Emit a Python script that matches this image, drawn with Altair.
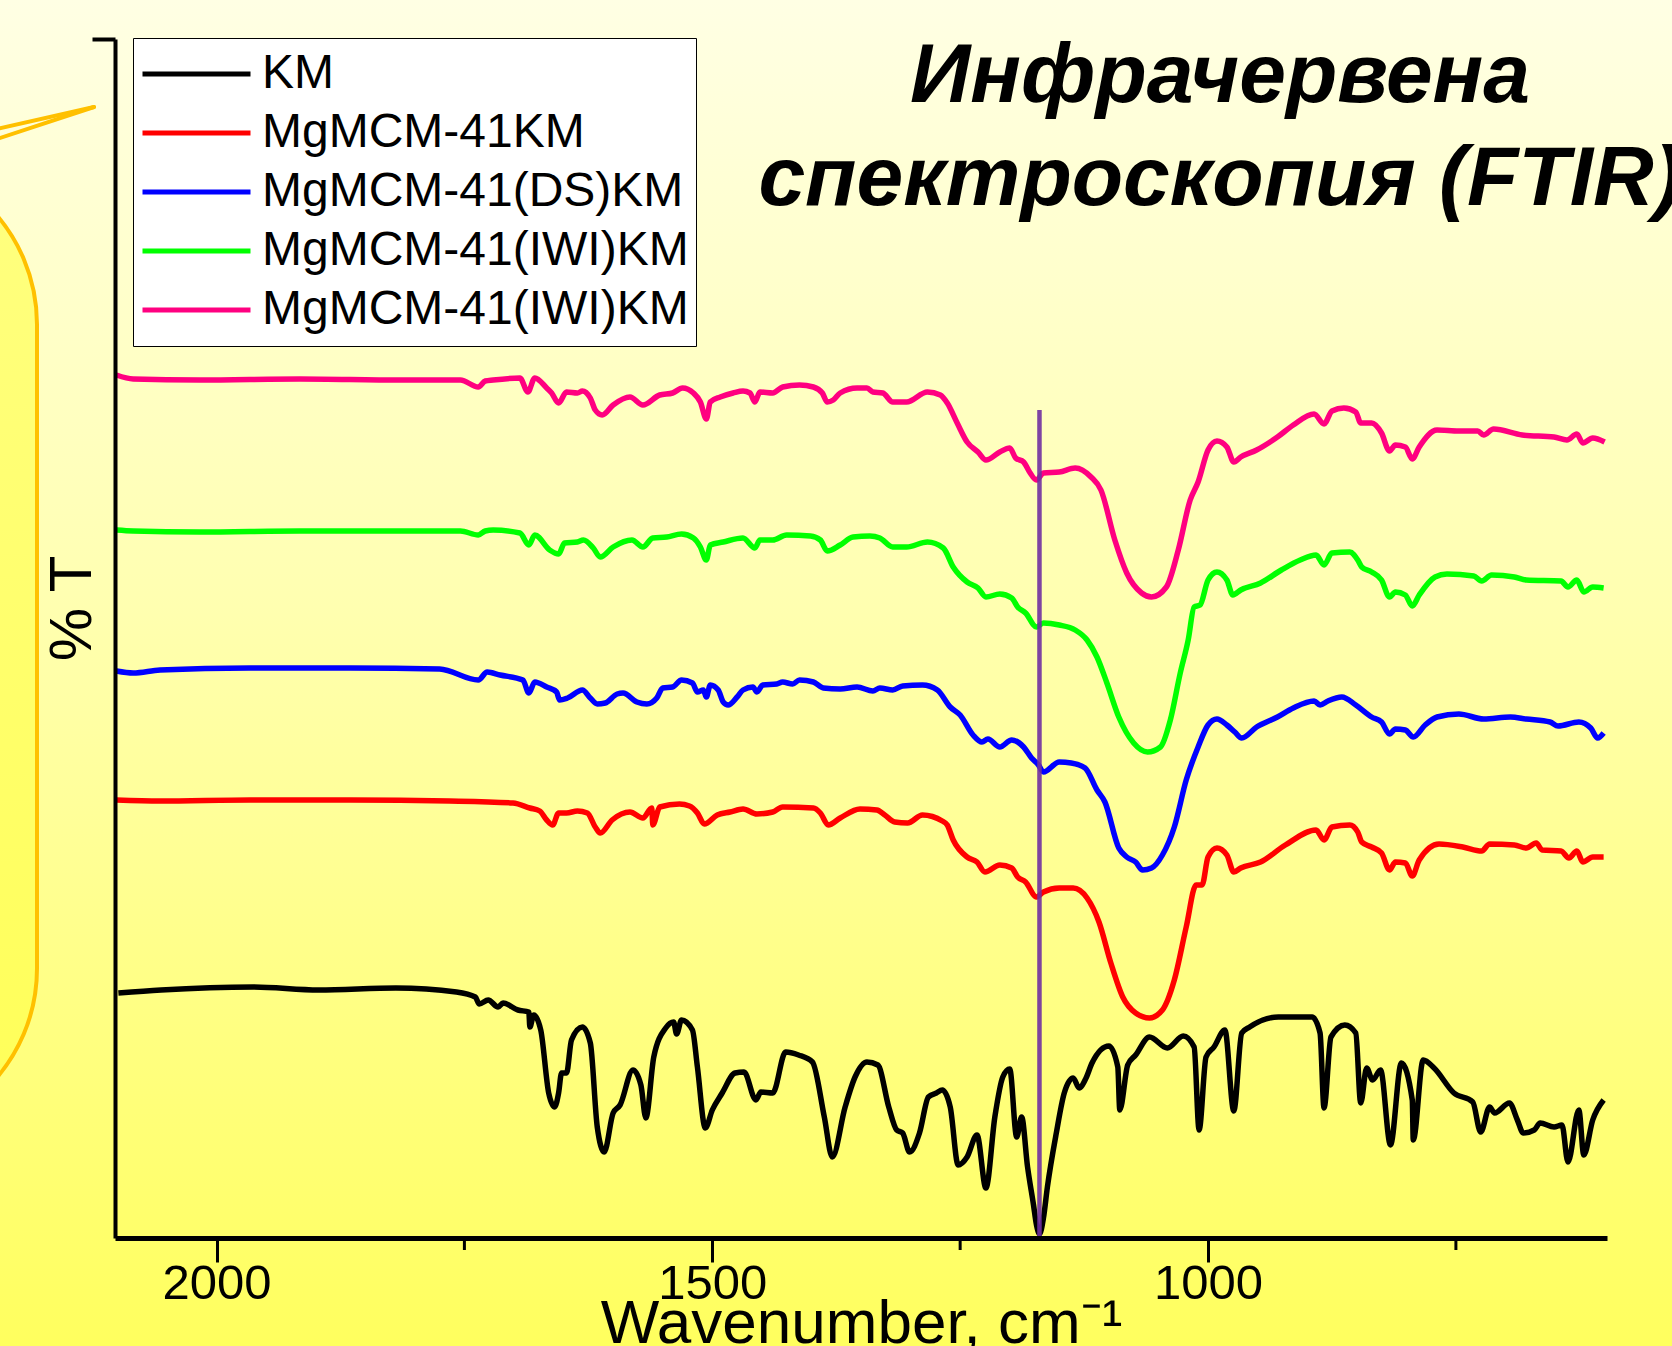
import altair as alt
import pandas as pd

# ---------------- data ----------------
SERIES_KEYS = ["KM", "MgMCM-41KM", "MgMCM-41(DS)KM", "MgMCM-41(IWI)KM", "MgMCM-41(IWI)KM [2]"]
SERIES_COLORS = ["#000000", "#FF0000", "#0000FF", "#00FF00", "#FF0080"]

km_wn = [2099, 2056, 1963, 1897, 1819, 1758, 1739, 1735, 1726, 1716, 1711, 1696, 1685, 1684, 1680,
         1673, 1665, 1659, 1655, 1652, 1647, 1642, 1631, 1623, 1616, 1609, 1600, 1593, 1580, 1572,
         1567, 1559, 1547, 1539, 1536, 1531, 1520, 1515, 1507, 1500, 1490, 1477, 1468, 1456, 1451,
         1439, 1426, 1413, 1399, 1387, 1379, 1366, 1356, 1344, 1333, 1322, 1314, 1308, 1301, 1291,
         1282, 1274, 1268, 1260, 1252, 1243, 1233, 1224, 1215, 1207, 1200, 1193, 1188, 1182, 1176,
         1173, 1170, 1166, 1162, 1153, 1145, 1136, 1130, 1123, 1117, 1100, 1091, 1089, 1081, 1073,
         1059, 1041, 1025, 1014, 1009, 1002, 994, 983, 974, 966, 958, 929, 895, 887, 883,
         876, 862, 851, 846, 840, 834, 826, 816, 805, 794, 793, 783, 772, 752, 733,
         725, 716, 711, 696, 688, 682, 671, 665, 651, 643, 637, 626, 621, 612, 601]
km_t = [24.5, 24.8, 25.1, 24.8, 25.0, 24.6, 24.1, 23.4, 23.8, 23.1, 23.5, 22.8, 22.6, 21.1, 22.3,
        20.8, 14.5, 13.1, 14.5, 16.5, 16.5, 19.8, 21.1, 19.5, 11.1, 8.6, 12.5, 13.3, 16.8, 15.3,
        12.0, 18.1, 21.0, 21.6, 20.4, 21.8, 20.8, 17.1, 11.0, 12.8, 14.5, 16.5, 16.6, 13.8, 14.6,
        14.5, 18.6, 18.3, 17.6, 12.1, 8.1, 13.1, 16.1, 17.6, 17.3, 13.1, 10.8, 10.5, 8.6, 10.5,
        14.1, 14.5, 14.8, 13.1, 7.3, 8.1, 10.3, 5.0, 12.1, 16.1, 16.9, 10.1, 12.1, 7.1, 3.3,
        1.3, 0.4, 2.0, 5.1, 10.5, 14.5, 16.0, 15.0, 16.0, 17.5, 19.2, 17.1, 12.8, 17.3, 18.3,
        20.1, 19.0, 20.2, 19.1, 10.8, 18.1, 19.1, 20.8, 12.7, 20.5, 21.1, 22.1, 22.1, 20.5, 13.0,
        20.1, 21.3, 20.5, 13.5, 17.0, 15.8, 16.8, 9.3, 17.5, 13.8, 9.8, 17.8, 17.0, 14.5, 13.6,
        10.6, 13.1, 12.5, 13.5, 11.8, 10.5, 10.8, 11.5, 11.1, 11.3, 7.6, 12.8, 8.3, 11.8, 13.8]

red_wn = [2101, 2057, 1966, 1865, 1765, 1701, 1684, 1674, 1667, 1661, 1655, 1647, 1636, 1626, 1618,
          1613, 1601, 1583, 1570, 1561, 1560, 1553, 1533, 1523, 1515, 1508, 1495, 1482, 1469, 1455,
          1439, 1429, 1398, 1391, 1383, 1371, 1351, 1334, 1326, 1316, 1303, 1288, 1268, 1263, 1257,
          1243, 1233, 1225, 1210, 1198, 1192, 1184, 1173, 1166, 1150, 1136, 1122, 1110, 1098, 1086,
          1073, 1059, 1046, 1034, 1022, 1012, 1006, 1000, 991, 981, 974, 967, 947, 922, 891,
          883, 875, 857, 849, 845, 835, 825, 817, 811, 801, 794, 787, 767, 743, 724,
          716, 691, 679, 669, 663, 644, 636, 628, 622, 612, 601]
red_t = [43.8, 43.7, 43.8, 43.8, 43.7, 43.5, 43.0, 42.7, 41.8, 41.3, 42.5, 42.5, 42.7, 42.5, 41.1,
         40.5, 41.8, 42.6, 42.0, 43.0, 41.3, 43.1, 43.4, 43.2, 42.5, 41.4, 42.3, 42.6, 42.9, 42.4,
         42.6, 43.1, 43.0, 42.5, 41.3, 42.0, 42.9, 42.8, 42.3, 41.6, 41.5, 42.3, 41.7, 41.3, 39.8,
         38.1, 37.6, 36.6, 37.3, 37.0, 36.1, 35.6, 34.1, 34.6, 35.0, 35.0, 34.0, 31.6, 27.5, 24.1,
         22.5, 22.0, 22.8, 25.8, 31.1, 35.3, 35.3, 38.1, 39.0, 38.3, 36.6, 37.0, 37.6, 39.3, 40.8,
         39.8, 41.1, 41.3, 40.6, 39.6, 39.1, 38.5, 36.8, 37.6, 37.5, 36.2, 37.8, 39.4, 39.1, 38.7,
         39.4, 39.3, 39.0, 39.5, 38.8, 38.7, 38.0, 38.7, 37.6, 38.1, 38.1]

blue_wn = [2101, 2084, 2057, 1966, 1865, 1775, 1736, 1727, 1714, 1691, 1685, 1679, 1667, 1657, 1654,
           1646, 1631, 1623, 1616, 1608, 1596, 1590, 1576, 1566, 1556, 1550, 1540, 1531, 1520, 1515,
           1509, 1506, 1502, 1494, 1489, 1484, 1475, 1469, 1459, 1455, 1449, 1435, 1429, 1419, 1412,
           1398, 1388, 1371, 1354, 1338, 1331, 1318, 1308, 1288, 1273, 1260, 1250, 1237, 1228, 1222,
           1210, 1198, 1186, 1178, 1171, 1166, 1150, 1138, 1124, 1112, 1104, 1090, 1082, 1073, 1066,
           1057, 1046, 1034, 1022, 1010, 1000, 991, 981, 973, 966, 951, 930, 914, 893, 887,
           879, 865, 851, 835, 825, 817, 811, 801, 793, 781, 769, 747, 722, 695, 679,
           655, 647, 626, 614, 607, 601]
blue_t = [56.7, 56.5, 56.8, 57.0, 57.0, 56.9, 55.8, 56.6, 56.3, 55.8, 54.5, 55.6, 55.1, 54.6, 53.8,
          54.0, 54.8, 54.0, 53.4, 53.5, 54.4, 54.5, 53.6, 53.4, 54.0, 55.0, 55.1, 55.8, 55.5, 54.6,
          54.8, 54.1, 55.3, 54.8, 53.6, 53.3, 54.1, 54.8, 55.1, 54.6, 55.3, 55.4, 55.6, 55.4, 55.8,
          55.6, 55.0, 54.9, 55.1, 54.7, 55.0, 54.8, 55.2, 55.3, 54.8, 53.1, 52.3, 50.3, 49.6, 49.9,
          49.1, 49.8, 49.1, 48.0, 47.3, 46.6, 47.6, 47.5, 47.0, 44.8, 43.6, 39.0, 38.1, 37.6, 36.8,
          37.0, 38.3, 41.1, 45.8, 49.1, 51.3, 51.9, 51.3, 50.6, 50.0, 51.1, 52.1, 53.0, 53.7, 53.3,
          53.7, 54.1, 53.3, 52.1, 51.6, 50.4, 50.9, 50.8, 50.1, 51.3, 52.1, 52.4, 51.9, 52.1, 51.9,
          51.6, 51.2, 51.6, 51.0, 50.0, 50.5]

green_wn = [2101, 2084, 2017, 1916, 1815, 1754, 1736, 1729, 1721, 1694, 1685, 1679, 1664, 1655, 1649,
            1636, 1630, 1620, 1613, 1600, 1581, 1570, 1560, 1546, 1531, 1519, 1512, 1506, 1502, 1489,
            1469, 1457, 1452, 1439, 1425, 1401, 1391, 1384, 1371, 1358, 1341, 1331, 1318, 1304, 1283,
            1267, 1257, 1243, 1232, 1224, 1210, 1198, 1192, 1184, 1173, 1166, 1150, 1134, 1122, 1112,
            1102, 1090, 1075, 1061, 1048, 1038, 1028, 1020, 1014, 1008, 1000, 991, 981, 975, 967,
            947, 926, 907, 891, 883, 875, 857, 849, 845, 835, 825, 817, 811, 801, 794,
            787, 771, 759, 732, 724, 714, 691, 679, 644, 637, 628, 621, 612, 601]
green_t = [70.8, 70.7, 70.6, 70.7, 70.7, 70.7, 70.3, 70.7, 70.8, 70.5, 69.3, 70.3, 68.8, 68.4, 69.5,
           69.6, 69.8, 69.0, 68.1, 69.1, 69.8, 69.1, 70.0, 70.1, 70.4, 70.0, 69.1, 67.8, 69.3, 69.6,
           70.0, 69.0, 69.8, 69.8, 70.3, 70.2, 69.8, 68.7, 69.3, 70.1, 70.2, 70.0, 69.1, 69.1, 69.6,
           69.0, 67.1, 65.6, 65.0, 64.1, 64.4, 64.0, 63.1, 62.5, 61.1, 61.5, 61.3, 60.8, 59.8, 58.1,
           55.5, 52.1, 49.5, 48.6, 49.1, 51.8, 56.5, 59.8, 63.1, 63.3, 65.8, 66.6, 65.8, 64.3, 64.8,
           65.5, 66.8, 67.8, 68.3, 67.3, 68.5, 68.6, 67.8, 67.1, 66.6, 65.8, 64.1, 64.6, 64.3, 63.2,
           64.3, 66.1, 66.4, 66.2, 65.7, 66.3, 66.1, 65.8, 65.7, 65.1, 65.8, 64.6, 65.1, 65.0]

pink_wn = [2101, 2084, 2017, 1916, 1815, 1754, 1736, 1729, 1721, 1694, 1686, 1679, 1667, 1662, 1655,
           1647, 1636, 1631, 1623, 1618, 1611, 1600, 1583, 1570, 1553, 1540, 1530, 1519, 1512, 1506,
           1502, 1492, 1479, 1469, 1462, 1457, 1452, 1439, 1429, 1412, 1398, 1389, 1384, 1378, 1371,
           1354, 1344, 1338, 1328, 1318, 1304, 1283, 1270, 1263, 1253, 1243, 1232, 1224, 1210, 1200,
           1194, 1186, 1180, 1173, 1166, 1150, 1134, 1118, 1108, 1094, 1082, 1067, 1057, 1042, 1030,
           1018, 1010, 1000, 991, 981, 974, 967, 951, 930, 914, 893, 883, 875, 863, 851,
           846, 835, 825, 817, 811, 801, 794, 787, 769, 747, 728, 722, 712, 683, 651,
           638, 628, 622, 612, 600]
pink_t = [86.3, 85.9, 85.8, 85.9, 85.8, 85.8, 85.1, 85.7, 85.8, 86.0, 84.6, 86.0, 85.0, 84.5, 83.5,
          84.6, 84.5, 84.7, 84.0, 82.8, 82.3, 83.3, 84.1, 83.3, 84.3, 84.5, 85.0, 84.5, 83.6, 81.9,
          83.6, 84.1, 84.5, 84.7, 84.5, 83.6, 84.6, 84.5, 85.1, 85.3, 85.1, 84.5, 83.6, 83.8, 84.5,
          85.0, 85.0, 84.6, 84.5, 83.6, 83.6, 84.6, 84.3, 83.5, 81.5, 79.6, 78.6, 77.8, 78.6, 79.0,
          78.0, 77.6, 76.6, 75.8, 76.5, 76.6, 77.0, 76.1, 74.8, 69.8, 66.5, 64.5, 64.1, 65.1, 68.8,
          73.8, 75.6, 78.8, 79.7, 79.1, 77.6, 78.1, 78.8, 80.1, 81.3, 82.4, 81.4, 82.7, 83.0, 82.6,
          81.5, 81.5, 80.5, 78.7, 79.3, 79.1, 77.9, 79.1, 80.8, 80.7, 80.7, 80.3, 80.9, 80.3, 80.1,
          79.8, 80.4, 79.5, 80.0, 79.6]

X_DOMAIN = [2102.4, 597.6]
Y_DOMAIN = [0, 119.9]
MAJOR_TICKS = [2000, 1500, 1000]
MINOR_TICKS = [1750, 1250, 750]
MARKER_WN = [1170]
MARKER_TOP = [82.8]

TITLE_LINES = ["Инфрачервена", "спектроскопия (FTIR)"]
X_TITLE = "Wavenumber, cm⁻¹"
Y_TITLE = "% T"

# ---------------- build table ----------------
series_data = [(km_wn, km_t), (red_wn, red_t), (blue_wn, blue_t), (green_wn, green_t), (pink_wn, pink_t)]
rows = []
for key, (wns, ts) in zip(SERIES_KEYS, series_data):
    for w, t in zip(wns, ts):
        rows.append({"series": key, "wavenumber": w, "T": t})
df = pd.DataFrame(rows)

FONT = "Liberation Sans"
W, H = 1492, 1199

x_scale = alt.Scale(domain=X_DOMAIN, nice=False, zero=False)
y_scale = alt.Scale(domain=Y_DOMAIN, nice=False, zero=False)

x_axis = alt.Axis(values=MAJOR_TICKS, format="d", title=X_TITLE, grid=False, zindex=1,
                  domainColor="black", domainWidth=5, tickColor="black", tickWidth=3,
                  tickSize=24, labelFont=FONT, labelFontSize=49, labelColor="black",
                  labelBaseline="alphabetic", labelPadding=36, labelFlush=False,
                  titleFont=FONT, titleFontSize=62, titleFontWeight="normal",
                  titleColor="black", titleBaseline="alphabetic", titleY=104,
                  titleX=746, titleAlign="center")
y_axis = alt.Axis(values=[Y_DOMAIN[1]], labels=False, title=Y_TITLE, grid=False, zindex=1,
                  domainColor="black", domainWidth=4, tickColor="black", tickWidth=4,
                  tickSize=23, titleFont=FONT, titleFontSize=60, titleFontWeight="normal",
                  titleColor="black", titleAngle=-90, titleX=-43, titleY=569,
                  titleAlign="center", titleBaseline="middle")

one = pd.DataFrame({"a": [0]})

bg_grad = alt.LinearGradient(
    gradient="linear",
    stops=[alt.GradientStop(color="#FFFFE4", offset=0),
           alt.GradientStop(color="#FFFFB0", offset=0.45),
           alt.GradientStop(color="#FFFF5E", offset=1)],
    x1=0, x2=0, y1=0, y2=1)
background = alt.Chart(one).mark_rect(fill=bg_grad).encode(
    x=alt.value(-115), x2=alt.value(1557), y=alt.value(-39), y2=alt.value(1307))

callout_grad = alt.LinearGradient(
    gradient="linear",
    stops=[alt.GradientStop(color="#FFFF80", offset=0),
           alt.GradientStop(color="#FFFF58", offset=1)],
    x1=0, x2=0, y1=0, y2=1)
callout = alt.Chart(one).mark_rect(fill=callout_grad, stroke="#FFC000", strokeWidth=4,
                                   cornerRadius=180).encode(
    x=alt.value(-415), x2=alt.value(-78), y=alt.value(117), y2=alt.value(1098))
tail1 = alt.Chart(one).mark_rule(color="#FFC000", strokeWidth=4, strokeCap="round").encode(
    x=alt.value(-118), y=alt.value(90), x2=alt.value(-21), y2=alt.value(68))
tail2 = alt.Chart(one).mark_rule(color="#FFC000", strokeWidth=4, strokeCap="round").encode(
    x=alt.value(-118), y=alt.value(100), x2=alt.value(-21), y2=alt.value(68))

lines = alt.Chart(df).mark_line(strokeWidth=5.5, interpolate="monotone").encode(
    x=alt.X("wavenumber:Q", scale=x_scale, axis=x_axis),
    y=alt.Y("T:Q", scale=y_scale, axis=y_axis),
    color=alt.Color("series:N",
                    scale=alt.Scale(domain=SERIES_KEYS, range=SERIES_COLORS),
                    legend=alt.Legend(orient="none", legendX=18, legendY=-1, title=None,
                                      fillColor="white", strokeColor="black", padding=7,
                                      symbolType="stroke", symbolSize=11664,
                                      symbolStrokeWidth=5, clipHeight=58, rowPadding=1,
                                      labelFont=FONT, labelFontSize=48, labelColor="black",
                                      labelOffset=9, labelLimit=1000, zindex=1,
                                      labelExpr="replace(datum.label, ' [2]', '')")),
    detail="series:N",
)

minor = alt.Chart(pd.DataFrame({"wavenumber": MINOR_TICKS})).mark_rule(
    color="black", strokeWidth=3).encode(
    x=alt.X("wavenumber:Q", scale=x_scale, axis=x_axis),
    y=alt.value(H), y2=alt.value(H + 12))

marker = alt.Chart(pd.DataFrame({"wavenumber": MARKER_WN, "T": MARKER_TOP, "bottom": [0]})).mark_rule(
    color="#7030A0", strokeWidth=4.5, opacity=0.9).encode(
    x=alt.X("wavenumber:Q", scale=x_scale, axis=x_axis),
    y=alt.Y("T:Q", scale=y_scale, axis=y_axis),
    y2="bottom:Q")

title = alt.Chart(one).mark_text(font=FONT, fontSize=84, fontStyle="italic", fontWeight="bold",
                                 align="center", baseline="alphabetic", lineHeight=103,
                                 color="black").encode(
    x=alt.value(1105), y=alt.value(63), text=alt.value(TITLE_LINES))

chart = alt.layer(background, callout, tail1, tail2, lines, minor, marker, title).properties(
    width=W, height=H,
    padding={"left": 115, "top": 39, "right": 65, "bottom": 108},
    autosize=alt.AutoSizeParams(type="none"),
).configure(background="#FFFFB0").configure_view(stroke=None)

chart.save("out.html", embed_options={"renderer": "svg", "actions": False})
